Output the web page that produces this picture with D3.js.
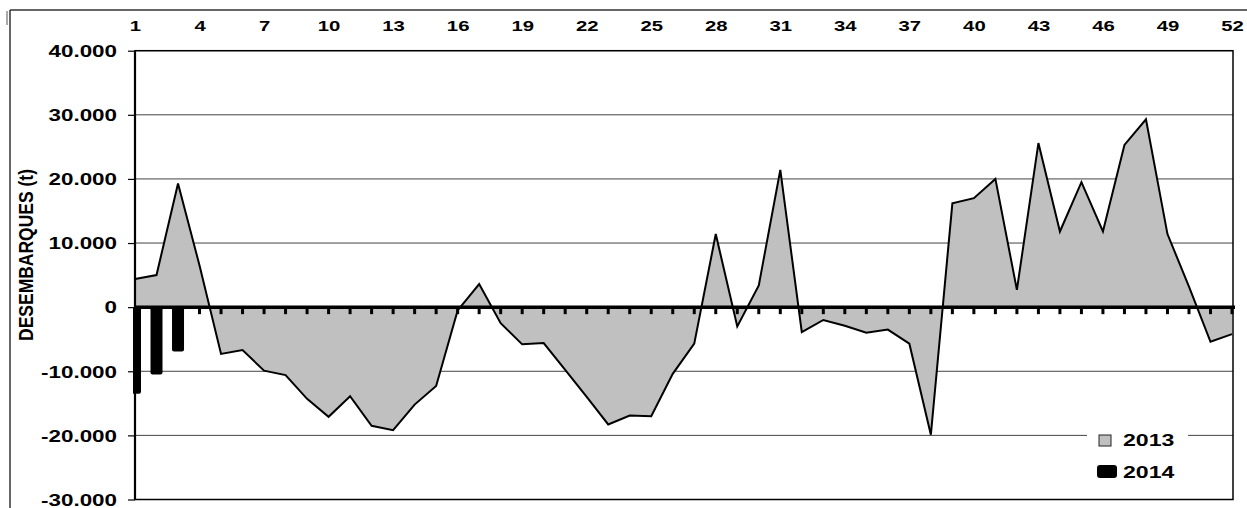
<!DOCTYPE html>
<html>
<head>
<meta charset="utf-8">
<script src="https://cdn.jsdelivr.net/npm/d3@7"></script>
<style>
  body { margin: 0; background: #fff; }
  text { font-family: "Liberation Sans", Arial, sans-serif; font-weight: bold; fill: #000; }
</style>
</head>
<body>
<svg id="chart" width="1247" height="508"></svg>
<script>
// weeks of the year
const weeks = d3.range(1, 53);
const weekLabels = [1, 4, 7, 10, 13, 16, 19, 22, 25, 28, 31, 34, 37, 40, 43, 46, 49, 52];

// 2013 landings (t), one value per week
const landings2013 = [4400, 5000, 19300, 6500, -7300, -6700, -9900, -10600, -14300, -17100,
  -13900, -18500, -19200, -15200, -12300, -500, 3600, -2500, -5800, -5600,
  -9800, -14000, -18300, -16900, -17000, -10400, -5700, 11400, -3000, 3400,
  21400, -3900, -2000, -2900, -4000, -3500, -5700, -19900, 16200, 17000,
  20000, 2700, 25600, 11800, 19500, 11800, 25300, 29300, 11400, 3200,
  -5400, -4200];

// 2014 landings (t), weeks available so far
const weeks2014 = [1, 2, 3];
const landings2014 = [-13500, -10500, -6900];

const yTicks = [-30000, -20000, -10000, 0, 10000, 20000, 30000, 40000];
const seriesNames = ['2013', '2014'];

const locale = d3.formatLocale({decimal: ',', thousands: '.', grouping: [3], currency: ['', ''], minus: '-'});
const fmt = locale.format(',');

const plot = { left: 135, right: 1232, top: 50.7, bottom: 499.5 };
const stretch = 'scale(1.4,1)';

const svg = d3.select('#chart');

const x = d3.scaleLinear().domain([1, 52]).range([plot.left, plot.right]);
const y = d3.scaleLinear().domain([-30000, 40000]).range([plot.bottom, plot.top]);

// outer frame
svg.append('line').attr('x1', 10).attr('x2', 10).attr('y1', 10).attr('y2', 508)
  .attr('stroke', '#333').attr('stroke-width', 1.5);
svg.append('line').attr('x1', 10).attr('x2', 1247).attr('y1', 10).attr('y2', 10)
  .attr('stroke', '#333').attr('stroke-width', 1.5);
svg.append('line').attr('x1', 7).attr('x2', 7).attr('y1', 11).attr('y2', 25)
  .attr('stroke', '#555').attr('stroke-width', 1);

// gridlines
svg.append('g')
  .selectAll('line')
  .data(yTicks)
  .enter()
  .append('line')
  .attr('x1', plot.left)
  .attr('x2', x(52) + 1)
  .attr('y1', d => y(d))
  .attr('y2', d => y(d))
  .attr('stroke', '#444')
  .attr('stroke-width', 1);

svg.append('clipPath').attr('id', 'plotclip')
  .append('rect')
  .attr('x', plot.left - 2).attr('y', plot.top)
  .attr('width', plot.right - plot.left + 4).attr('height', plot.bottom - plot.top);

const data2013 = weeks.map((w, i) => ({ week: w, value: landings2013[i] }));

// 2013 area + outline
svg.append('path')
  .datum(data2013)
  .attr('fill', '#c0c0c0')
  .attr('d', d3.area().x(d => x(d.week)).y0(y(0)).y1(d => y(d.value)));

svg.append('path')
  .datum(data2013)
  .attr('fill', 'none')
  .attr('stroke', '#000')
  .attr('stroke-width', 2)
  .attr('stroke-linejoin', 'miter')
  .attr('d', d3.line().x(d => x(d.week)).y(d => y(d.value)));

// 2014 bars
const barW = 12;
svg.append('g')
  .attr('clip-path', 'url(#plotclip)')
  .selectAll('rect')
  .data(weeks2014.map((w, i) => ({ week: w, value: landings2014[i] })))
  .enter()
  .append('rect')
  .attr('x', d => x(d.week) - barW / 2)
  .attr('y', y(0))
  .attr('width', barW)
  .attr('height', d => y(d.value) - y(0))
  .attr('rx', 2)
  .attr('fill', '#000');

// zero line with week ticks
svg.append('line')
  .attr('x1', plot.left).attr('x2', plot.right + 3)
  .attr('y1', y(0)).attr('y2', y(0))
  .attr('stroke', '#000').attr('stroke-width', 3.5);

svg.append('g')
  .selectAll('rect')
  .data(weeks)
  .enter()
  .append('rect')
  .attr('x', d => x(d) - 1.5)
  .attr('y', y(0))
  .attr('width', 3)
  .attr('height', 7)
  .attr('fill', '#000');

// plot border
svg.append('rect')
  .attr('x', plot.left).attr('y', plot.top)
  .attr('width', plot.right + 1 - plot.left).attr('height', plot.bottom - plot.top)
  .attr('fill', 'none').attr('stroke', '#000').attr('stroke-width', 1.5);
svg.append('line')
  .attr('x1', plot.left).attr('x2', plot.left)
  .attr('y1', plot.top).attr('y2', plot.bottom)
  .attr('stroke', '#000').attr('stroke-width', 2.2);

// y axis
const yAxis = svg.append('g')
  .attr('transform', `translate(${plot.left},0)`)
  .call(d3.axisLeft(y).tickValues(yTicks).tickSize(7).tickFormat(fmt));
yAxis.select('.domain').remove();
yAxis.selectAll('line').attr('stroke', '#000').attr('stroke-width', 1.2);
yAxis.selectAll('text')
  .attr('x', 0)
  .attr('dy', '0.36em')
  .attr('transform', 'translate(-18,0) ' + stretch)
  .style('font-size', '16px')
  .style('font-family', '"Liberation Sans", Arial, sans-serif')
  .style('font-weight', 'bold')
  .attr('fill', '#000');

// week labels on top
const xAxis = svg.append('g')
  .attr('transform', 'translate(0,31)')
  .call(d3.axisTop(x).tickValues(weekLabels).tickSize(0).tickPadding(0));
xAxis.select('.domain').remove();
xAxis.selectAll('text')
  .attr('transform', stretch)
  .style('font-size', '14.5px')
  .style('font-family', '"Liberation Sans", Arial, sans-serif')
  .style('font-weight', 'bold')
  .attr('fill', '#000');

// y axis title
svg.append('text')
  .attr('transform', 'translate(26,255) scale(1.3,1) rotate(-90)')
  .attr('text-anchor', 'middle')
  .attr('dy', '0.35em')
  .attr('textLength', 172)
  .attr('lengthAdjust', 'spacingAndGlyphs')
  .style('font-size', '16px')
  .text('DESEMBARQUES (t)');

// legend
const legend = svg.append('g');
legend.append('rect')
  .attr('x', 1087).attr('y', 425).attr('width', 101).attr('height', 62)
  .attr('fill', '#fff');
legend.append('rect')
  .attr('x', 1099).attr('y', 435).attr('width', 12).attr('height', 11)
  .attr('fill', '#c0c0c0').attr('stroke', '#222').attr('stroke-width', 1);
legend.append('rect')
  .attr('x', 1097).attr('y', 465).attr('width', 20).attr('height', 13)
  .attr('rx', 3).attr('fill', '#000');
legend.selectAll('text.lbl')
  .data(seriesNames)
  .enter()
  .append('text')
  .attr('class', 'lbl')
  .attr('transform', (d, i) => `translate(1123,${446 + i * 32}) ${stretch}`)
  .style('font-size', '16.5px')
  .text(d => d);
</script>
</body>
</html>
